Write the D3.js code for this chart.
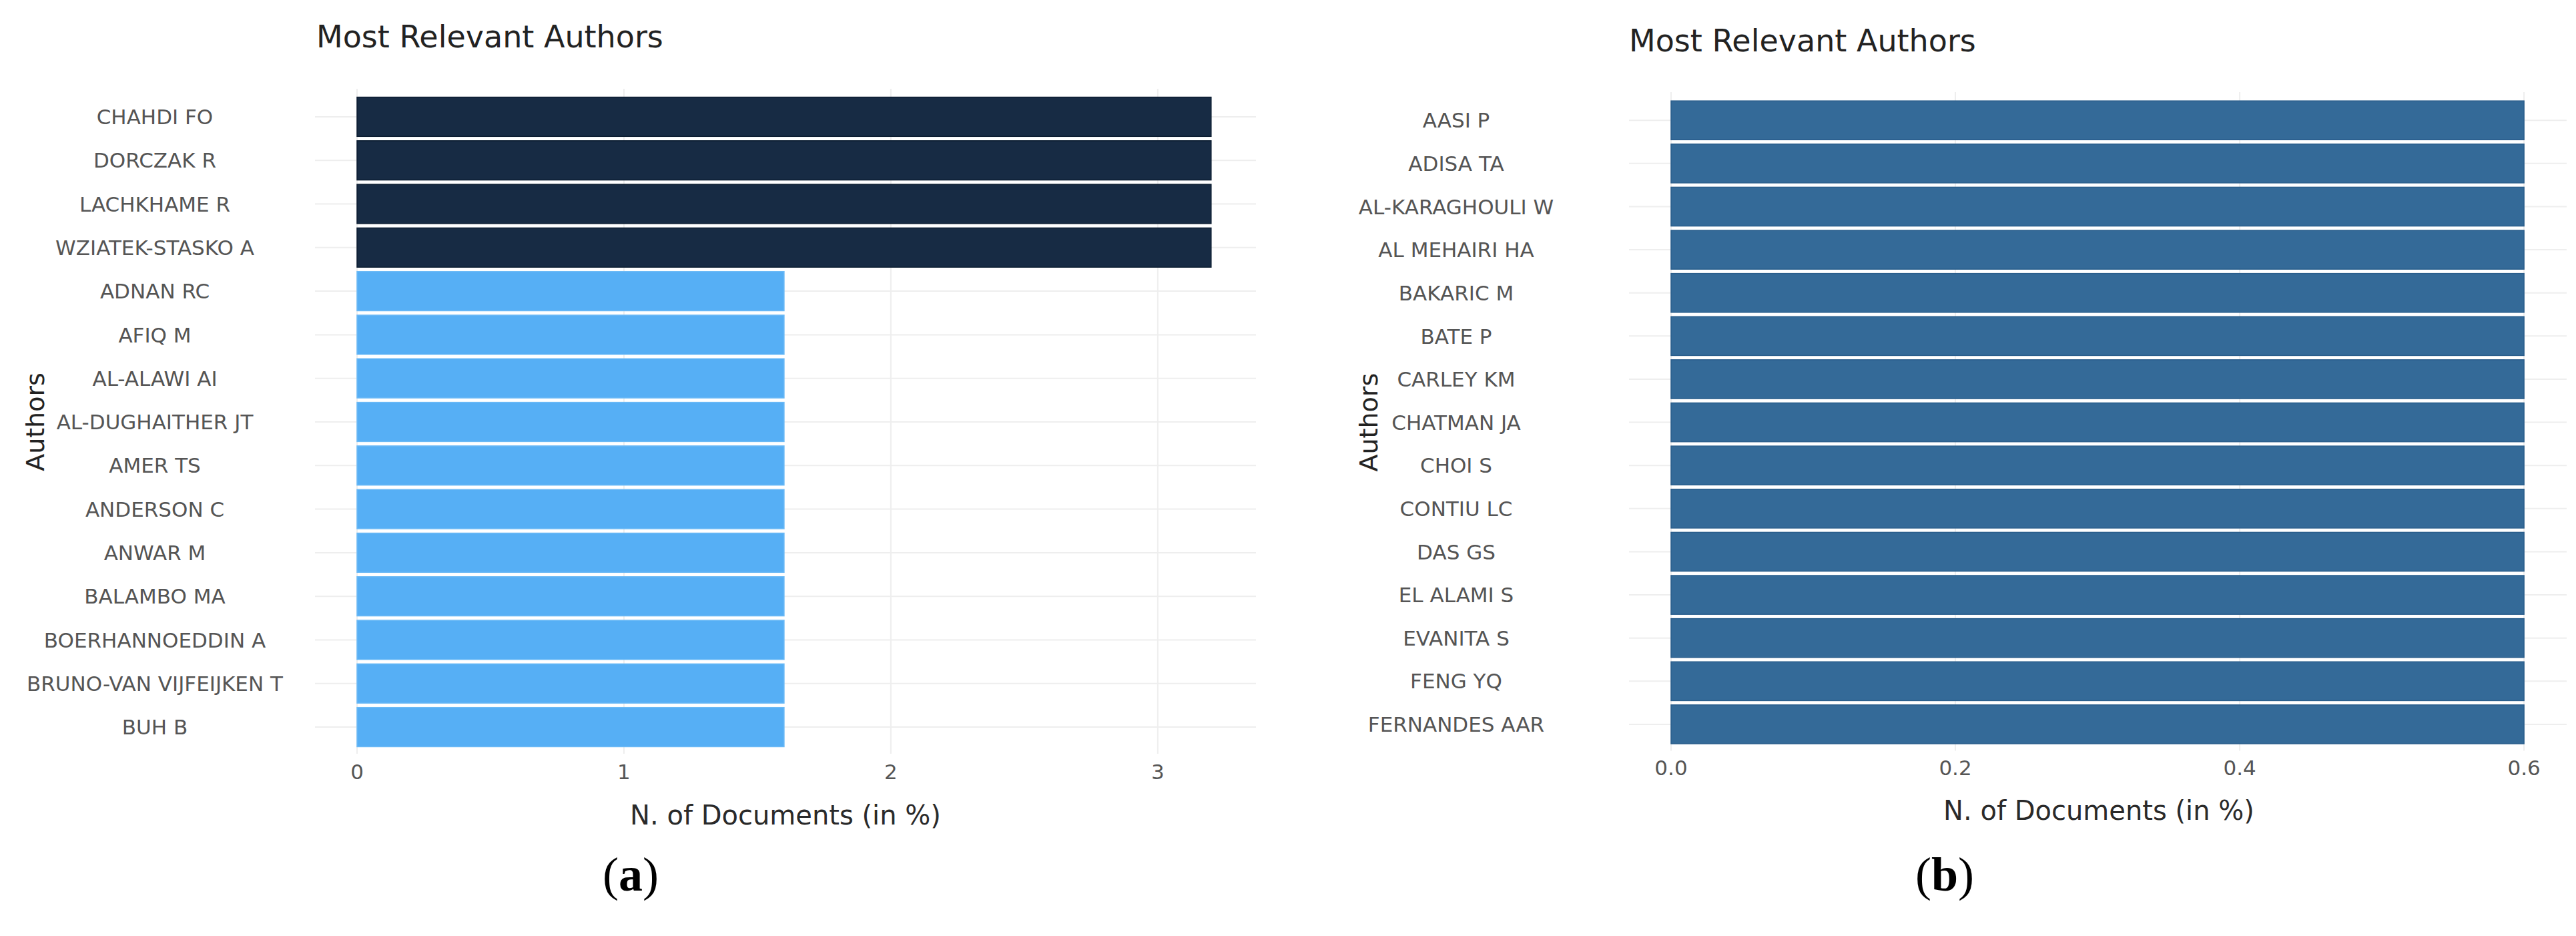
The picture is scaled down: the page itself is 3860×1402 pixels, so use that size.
<!DOCTYPE html>
<html>
<head>
<meta charset="utf-8">
<script src="https://cdn.jsdelivr.net/npm/d3@7/dist/d3.min.js"></script>
<style>
  html, body { margin: 0; padding: 0; background: #ffffff; }
  svg { display: block; }
  text { font-family: "DejaVu Sans", Verdana, sans-serif; }
</style>
</head>
<body>
<svg id="chart" width="3860" height="1402"></svg>
<script>
// ---------- data ----------
const authorsA = ["CHAHDI FO", "DORCZAK R", "LACHKHAME R", "WZIATEK-STASKO A", "ADNAN RC", "AFIQ M",
  "AL-ALAWI AI", "AL-DUGHAITHER JT", "AMER TS", "ANDERSON C", "ANWAR M", "BALAMBO MA",
  "BOERHANNOEDDIN A", "BRUNO-VAN VIJFEIJKEN T", "BUH B"];
const valuesA = [3.2, 3.2, 3.2, 3.2, 1.6, 1.6, 1.6, 1.6, 1.6, 1.6, 1.6, 1.6, 1.6, 1.6, 1.6];
const ticksA = [0, 1, 2, 3];
const tickLabelsA = ["0", "1", "2", "3"];

const authorsB = ["AASI P", "ADISA TA", "AL-KARAGHOULI W", "AL MEHAIRI HA", "BAKARIC M", "BATE P",
  "CARLEY KM", "CHATMAN JA", "CHOI S", "CONTIU LC", "DAS GS", "EL ALAMI S", "EVANITA S",
  "FENG YQ", "FERNANDES AAR"];
const valuesB = [0.6, 0.6, 0.6, 0.6, 0.6, 0.6, 0.6, 0.6, 0.6, 0.6, 0.6, 0.6, 0.6, 0.6, 0.6];
const ticksB = [0, 0.2, 0.4, 0.6];
const tickLabelsB = ["0.0", "0.2", "0.4", "0.6"];

const titleText = "Most Relevant Authors";
const xTitleText = "N. of Documents (in %)";
const yTitleText = "Authors";

// ---------- drawing ----------
const svg = d3.select("#chart");

function panel(cfg) {
  const g = svg.append("g");
  const x = d3.scaleLinear().domain(cfg.xDomain).range([cfg.x0, cfg.x1]);
  const y = d3.scaleBand().domain(cfg.cats).range([cfg.y0, cfg.y1]).padding(0.1);

  // vertical gridlines
  g.append("g").selectAll("line").data(cfg.ticks).join("line")
    .attr("x1", d => x(d)).attr("x2", d => x(d))
    .attr("y1", cfg.gridTop).attr("y2", cfg.y1 + 4)
    .attr("stroke", "#eeeeee").attr("stroke-width", 2);

  // horizontal gridlines
  g.append("g").selectAll("line").data(cfg.cats).join("line")
    .attr("x1", cfg.gridLeft).attr("x2", cfg.x1)
    .attr("y1", d => y(d) + y.bandwidth() / 2).attr("y2", d => y(d) + y.bandwidth() / 2)
    .attr("stroke", "#eeeeee").attr("stroke-width", 2);

  // bars
  g.append("g").selectAll("rect").data(cfg.cats).join("rect")
    .attr("x", x(0))
    .attr("y", d => y(d))
    .attr("width", (d, i) => x(cfg.values[i]) - x(0))
    .attr("height", y.bandwidth())
    .attr("fill", (d, i) => cfg.color(cfg.values[i]))
    .attr("stroke", (d, i) => cfg.edge(cfg.values[i]))
    .attr("stroke-width", 1.5);

  // category labels
  g.append("g").selectAll("text").data(cfg.cats).join("text")
    .attr("x", cfg.labelX)
    .attr("y", d => y(d) + y.bandwidth() / 2)
    .attr("dy", "0.36em")
    .attr("text-anchor", "middle")
    .attr("font-size", 31)
    .attr("fill", "#555555")
    .text(d => d);

  // x tick labels
  g.append("g").selectAll("text").data(cfg.ticks).join("text")
    .attr("x", d => x(d))
    .attr("y", cfg.tickY)
    .attr("dy", "0.36em")
    .attr("text-anchor", "middle")
    .attr("font-size", 31)
    .attr("fill", "#555555")
    .text((d, i) => cfg.tickLabels[i]);

  // title
  g.append("text").attr("x", cfg.titleX).attr("y", cfg.titleY)
    .attr("font-size", 46).attr("fill", "#222222").text(titleText);

  // x axis title
  g.append("text").attr("x", cfg.xTitleX).attr("y", cfg.xTitleY)
    .attr("text-anchor", "middle").attr("font-size", 40).attr("fill", "#2a2a2a").text(xTitleText);

  // y axis title
  g.append("text")
    .attr("transform", `translate(${cfg.yTitleX},${(cfg.y0 + cfg.y1) / 2}) rotate(-90)`)
    .attr("text-anchor", "middle").attr("font-size", 38).attr("fill", "#222222").text(yTitleText);

  // panel letter
  const lt = g.append("text").attr("x", cfg.letterX).attr("y", 1334)
    .attr("text-anchor", "middle")
    .style("font-family", "'Liberation Serif', 'Times New Roman', serif")
    .attr("font-size", 72).attr("fill", "#000000");
  lt.append("tspan").text("(");
  lt.append("tspan").attr("font-weight", "bold").text(cfg.letter);
  lt.append("tspan").text(")");
}

panel({
  cats: authorsA, values: valuesA, ticks: ticksA, tickLabels: tickLabelsA,
  xDomain: [0, 3.368], x0: 535, x1: 1882,
  y0: 139, y1: 1125, gridTop: 133, gridLeft: 472,
  color: v => v > 2 ? "#172b44" : "#56aff5",
  edge: v => v > 2 ? "#0c1d31" : "#6cbaf6",
  labelX: 232, tickY: 1156,
  titleX: 474, titleY: 71,
  xTitleX: 1177, xTitleY: 1235,
  yTitleX: 66, letterX: 945, letter: "a"
});

panel({
  cats: authorsB, values: valuesB, ticks: ticksB, tickLabels: tickLabelsB,
  xDomain: [0, 0.63], x0: 2504, x1: 3846,
  y0: 144.7, y1: 1120.5, gridTop: 138, gridLeft: 2441,
  color: v => "#346a98",
  edge: v => "#2a5e8c",
  labelX: 2182, tickY: 1150,
  titleX: 2441, titleY: 77,
  xTitleX: 3145, xTitleY: 1228,
  yTitleX: 2064, letterX: 2914, letter: "b"
});
</script>
</body>
</html>
